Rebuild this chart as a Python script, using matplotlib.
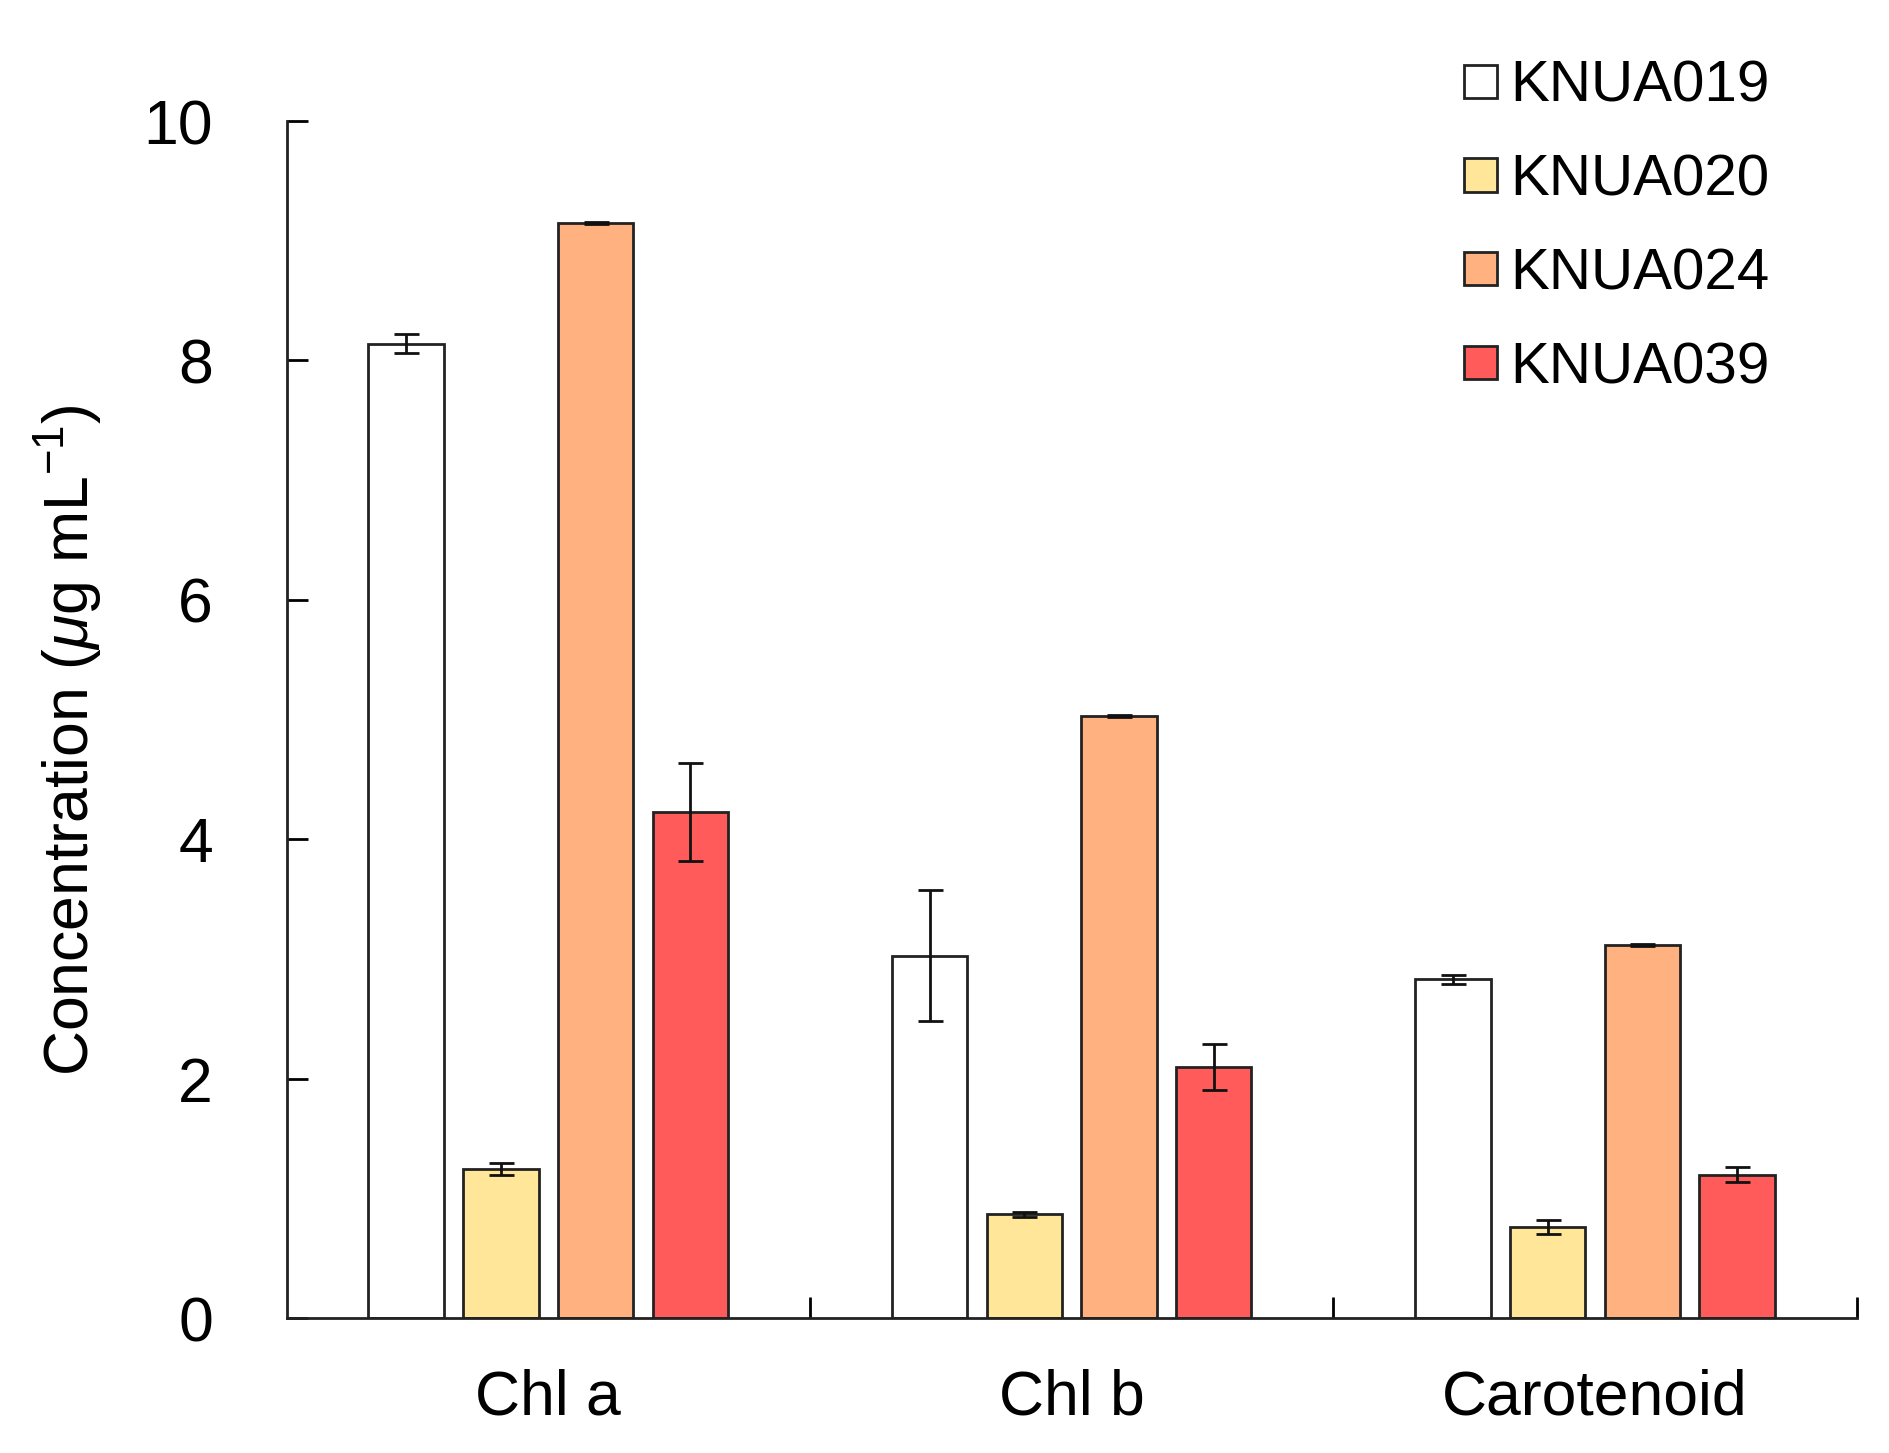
import numpy as np
import matplotlib
matplotlib.use('Agg')
from matplotlib import pyplot as plt

# データ
categories = ['Chl a', 'Chl b', 'Carotenoid']
strains = ['KNUA019', 'KNUA020', 'KNUA024', 'KNUA039']
knua019 = [8.14, 3.03, 2.83]
knua020 = [1.25, 0.87, 0.76]
knua024 = [9.15, 5.03, 3.12]
knua039 = [4.23, 2.10, 1.20]
err019 = [0.08, 0.55, 0.04]
err020 = [0.05, 0.02, 0.06]
err024 = [0.01, 0.01, 0.01]
err039 = [0.41, 0.19, 0.06]

values = [knua019, knua020, knua024, knua039]
errors = [err019, err020, err024, err039]
colors = ['#FFFFFF', '#FFE699', '#FFB27F', '#FF5B5B']

# フォント設定
plt.rcParams['font.size'] = 45
plt.rcParams['font.family'] = ['Liberation Sans', 'DejaVu Sans']
plt.rcParams['mathtext.fontset'] = 'custom'
plt.rcParams['mathtext.rm'] = 'Liberation Sans'
plt.rcParams['mathtext.it'] = 'Liberation Sans:italic'

fig = plt.figure(figsize=(18.89, 14.53), dpi=100)
ax = fig.add_axes([0.1517, 0.0927, 0.8312, 0.8240])

x = np.arange(len(categories))
step = 0.181
width = 0.1443
for i in range(len(strains)):
    ax.bar(x + (i - 1.5) * step, values[i], width, yerr=errors[i],
           color=colors[i], edgecolor='#222222', linewidth=2.0,
           label=strains[i],
           error_kw=dict(ecolor='#111111', elinewidth=2.0, capsize=9, capthick=2.0))

ax.set_xlim(-0.5, 2.5)
ax.set_ylim(0, 10)
ax.set_yticks([0, 2, 4, 6, 8, 10])
ax.set_xticks([0.5, 1.5, 2.5])
ax.set_xticklabels([])
ax.set_xticks(x, minor=True)
ax.set_xticklabels(categories, minor=True)
ax.tick_params(axis='x', which='major', direction='in', length=15, width=2)
ax.tick_params(axis='x', which='minor', length=0, pad=36)
ax.tick_params(axis='y', direction='in', length=15, width=2, pad=53)

for s in ['top', 'right']:
    ax.spines[s].set_visible(False)
for s in ['left', 'bottom']:
    ax.spines[s].set_linewidth(2.0)
    ax.spines[s].set_color('#222222')

ax.set_ylabel(r'Concentration ($\mu$g mL$^{-1}$)')
ax.yaxis.set_label_coords(-0.116, 0.483)

ax.legend(loc='upper left', bbox_to_anchor=(1464 / 1889, 1 - 60 / 1453),
          bbox_transform=fig.transFigure, frameon=False, borderpad=0,
          borderaxespad=0, fontsize=42, handlelength=0.566, handleheight=0.5,
          handletextpad=0.22, labelspacing=0.68)

fig.savefig('out.png', dpi=100)
plt.close()
